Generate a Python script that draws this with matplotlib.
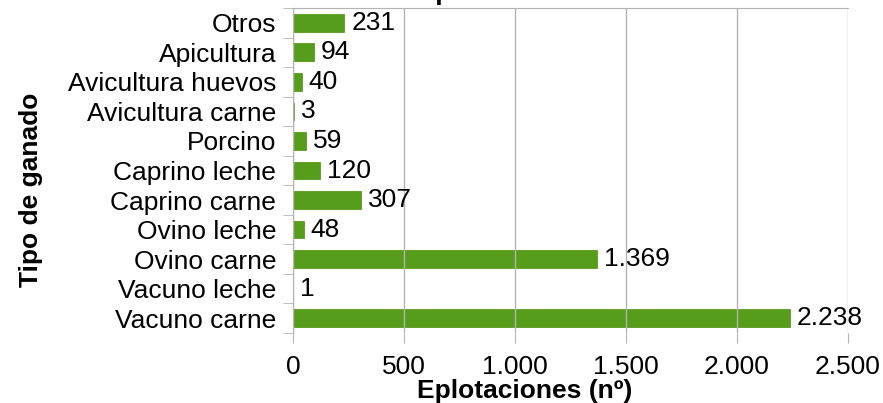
import matplotlib.pyplot as plt
import numpy as np

plt.rcParams['font.family'] = ['Liberation Sans', 'DejaVu Sans']

categories = ['Vacuno carne', 'Vacuno leche', 'Ovino carne', 'Ovino leche', 'Caprino carne',
              'Caprino leche', 'Porcino', 'Avicultura carne', 'Avicultura huevos', 'Apicultura', 'Otros']
explotaciones = [2238, 1, 1369, 48, 307, 120, 59, 3, 40, 94, 231]
xticks = [0, 500, 1000, 1500, 2000, 2500]

def fmt(v):
    return f"{v:,}".replace(",", ".")

green = '#579d1c'
gray = '#b3b3b3'
fs = 19

fig = plt.figure(figsize=(8.83, 4.03), dpi=100)
ax = fig.add_axes([293/883, 1 - 333/403, 555/883, 325/403])

y = np.arange(len(categories))
rects = ax.barh(y, explotaciones, height=0.6, color=green, edgecolor=green, linewidth=0.6, zorder=2)
ax.bar_label(rects, labels=[fmt(v) for v in explotaciones], padding=5, fontsize=fs)

ax.set_xlim(0, 2500)
ax.set_ylim(-0.5, len(categories) - 0.5)
ax.set_xticks(xticks, [fmt(v) for v in xticks])
ax.set_yticks(y, categories)
ax.set_yticks(np.arange(-0.5, len(categories)), minor=True)
ax.tick_params(axis='y', which='major', length=0, pad=12, labelsize=fs)
ax.tick_params(axis='y', which='minor', length=7, color=gray, direction='out')
ax.tick_params(axis='x', length=7, color=gray, direction='out', pad=9, labelsize=fs)
ax.grid(axis='x', color=gray, linewidth=1, zorder=3)
ax.set_axisbelow(False)

for s in ['right', 'bottom']:
    ax.spines[s].set_visible(False)
ax.spines['left'].set_color(gray)
ax.spines['top'].set_color(gray)

ax.set_ylabel('Tipo de ganado', fontsize=fs, fontweight='bold')
ax.yaxis.set_label_coords(-0.45, 0.44)
ax.set_xlabel('Eplotaciones (nº)', fontsize=fs, fontweight='bold')
ax.xaxis.set_label_coords(0.418, -0.143)

# title is cut off at the top edge in the original
fig.text(0.457, 1.0, 'Explotaciones', fontsize=fs, fontweight='bold', va='baseline')

fig.savefig('out.png', dpi=100)
